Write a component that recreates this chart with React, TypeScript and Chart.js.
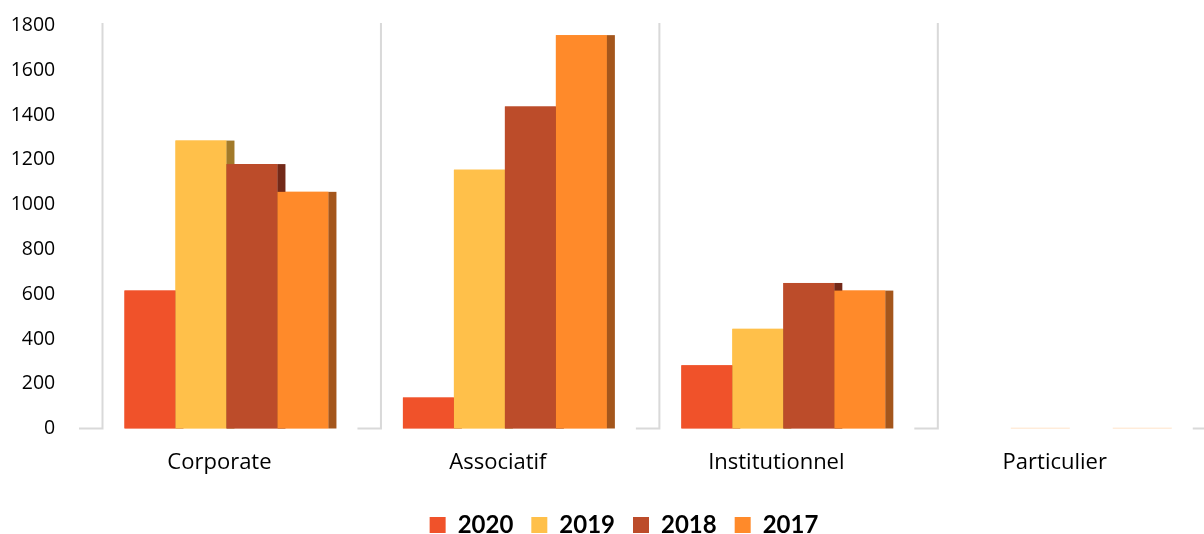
import React, { useEffect, useRef } from "react";
import { Chart, registerables } from "chart.js";

Chart.register(...registerables);

const categories = ["Corporate", "Associatif", "Institutionnel", "Particulier"];
const seriesNames = ["2020", "2019", "2018", "2017"];
const values2020: (number | null)[] = [616, 138, 282, null];
const values2019: (number | null)[] = [1286, 1156, 445, 0];
const values2018: (number | null)[] = [1181, 1438, 650, null];
const values2017: (number | null)[] = [1057, 1757, 616, 0];
const yTicks = [0, 200, 400, 600, 800, 1000, 1200, 1400, 1600, 1800];

const frontColors = ["#F0522A", "#FFC04A", "#BC4C2A", "#FF8A2A"];
const sideColors = ["#A8381D", "#A27A2A", "#732918", "#A4561C"];

const AXIS_FONT = "'Open Sans', 'Noto Sans', sans-serif";
const LEGEND_FONT = "Lato, 'Open Sans', sans-serif";

const depthPlugin = {
  id: "depth",
  afterLayout(chart: any) {
    const lg = chart.legend;
    if (lg) {
      lg.left += 23.5;
      lg.right += 23.5;
      lg.top += 17;
      lg.bottom += 17;
    }
  },
  beforeDatasetsDraw(chart: any) {
    const { ctx, chartArea } = chart;
    const xs = chart.scales.x;
    const n = categories.length;
    const catW = (xs.right - xs.left) / n;
    ctx.save();
    ctx.strokeStyle = "#D9D9D9";
    ctx.lineWidth = 2;
    for (let i = 0; i <= n; i++) {
      const xb = xs.left + i * catW;
      const wallX = xb + catW * 0.0548;
      ctx.beginPath();
      ctx.moveTo(xb - catW * 0.0296, chartArea.bottom);
      ctx.lineTo(wallX, chartArea.bottom);
      ctx.lineTo(wallX, chartArea.top - 2.5);
      ctx.stroke();
    }
    ctx.restore();
  },
  afterDatasetsDraw(chart: any) {
    const { ctx } = chart;
    const depth = 8;
    ctx.save();
    const nDs = chart.data.datasets.length;
    for (let i = 0; i < nDs; i++) {
      const meta = chart.getDatasetMeta(i);
      const ds = chart.data.datasets[i];
      meta.data.forEach((bar: any, j: number) => {
        const v = ds.data[j];
        if (v === null || v === undefined) return;
        const left = bar.x - bar.width / 2;
        if (v === 0) {
          ctx.fillStyle = "rgba(255, 200, 150, 0.35)";
          ctx.fillRect(left, bar.base - 1, bar.width + depth, 1.5);
          return;
        }
        ctx.fillStyle = frontColors[i];
        ctx.fillRect(left, bar.y, bar.width, bar.base - bar.y);
        ctx.fillStyle = sideColors[i];
        ctx.fillRect(left + bar.width, bar.y, depth, bar.base - bar.y);
      });
    }
    ctx.restore();
  },
};

export default function App() {
  const ref = useRef<HTMLCanvasElement | null>(null);
  useEffect(() => {
    if (!ref.current) return;
    const all = [values2020, values2019, values2018, values2017];
    const chart = new Chart(ref.current, {
      type: "bar",
      data: {
        labels: categories,
        datasets: all.map((d, i) => ({
          label: seriesNames[i],
          data: d,
          backgroundColor: frontColors[i],
          borderWidth: 0,
          categoryPercentage: 0.7325,
          barPercentage: 1,
        })),
      },
      options: {
        animation: false,
        responsive: false,
        maintainAspectRatio: false,
        layout: { padding: { left: 0, right: 3, top: 25.5, bottom: 4 } },
        plugins: {
          tooltip: { enabled: false },
          legend: {
            position: "bottom",
            labels: {
              boxWidth: 16,
              boxHeight: 16,
              padding: 18,
              color: "#000",
              font: { family: LEGEND_FONT, size: 24, weight: "bold" },
            },
          },
        },
        scales: {
          x: {
            grid: { display: false, drawTicks: false },
            border: { display: false },
            ticks: {
              padding: 21,
              labelOffset: -7,
              color: "#000",
              font: { family: AXIS_FONT, size: 22 },
            },
            afterFit(scale: any) {
              scale.height = 49.5;
              scale.paddingLeft = 0;
              scale.paddingRight = 0;
            },
          },
          y: {
            min: 0,
            max: 1800,
            afterBuildTicks(scale: any) {
              scale.ticks = yTicks.map((v) => ({ value: v }));
            },
            grid: { display: false, drawTicks: false },
            border: { display: false },
            ticks: {
              padding: 32,
              color: "#000",
              font: { family: AXIS_FONT, size: 19.5 },
              callback: (v: any) => String(v),
            },
            afterFit(scale: any) {
              scale.width = 87.25;
              scale.paddingTop = 0;
              scale.paddingBottom = 0;
            },
          },
        },
      },
      plugins: [depthPlugin],
    });
    return () => chart.destroy();
  }, []);
  return (
    <div style={{ position: "absolute", left: 0, top: 0, width: 1204, height: 534, background: "#fff" }}>
      <canvas ref={ref} width={1204} height={534} style={{ display: "block" }} />
    </div>
  );
}
